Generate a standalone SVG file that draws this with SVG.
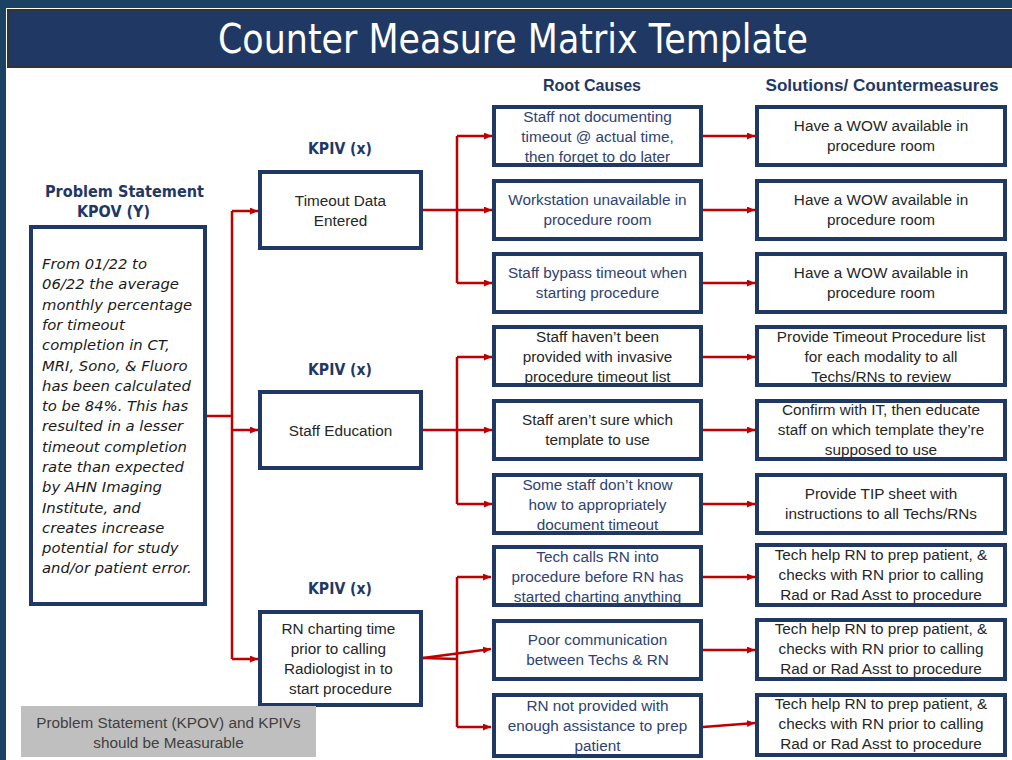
<svg xmlns="http://www.w3.org/2000/svg" width="1012" height="760" viewBox="0 0 1012 760">
  <defs>
    <marker id="arrow" markerWidth="9" markerHeight="8" refX="8" refY="3.5" orient="auto" markerUnits="userSpaceOnUse">
      <path d="M0,0 L8,3.5 L0,7 z" fill="#c00000"/>
    </marker>
    <style>
      .box { fill: #ffffff; stroke: #1f3864; stroke-width: 4; }
      .txt { font-family: "Liberation Sans", Arial, sans-serif; font-size: 15.3px; text-anchor: middle; }
      .dark { fill: #262626; }
      .navy { fill: #2e4273; }
      .head { font-family: "DejaVu Sans", Verdana, sans-serif; font-weight: bold; fill: #1f3864; text-anchor: middle; }
      .colhead { font-family: "Liberation Sans", Arial, sans-serif; font-weight: bold; font-size: 16.5px; fill: #1f3864; text-anchor: middle; }
      .prob { font-family: "DejaVu Sans", Verdana, sans-serif; font-style: italic; font-size: 14.8px; fill: #1a1a1a; }
      .link { fill: none; stroke: #c00000; stroke-width: 2.5; }
      .arr { marker-end: url(#arrow); }
    </style>
  </defs>

  <!-- page background and frame -->
  <rect x="0" y="0" width="1012" height="760" fill="#ffffff"/>
  <rect x="0" y="0" width="1012" height="8" fill="#1b4263"/>
  <rect x="0" y="0" width="6" height="760" fill="#1b4263"/>

  <!-- title band -->
  <g id="title">
    <rect x="8" y="10" width="1006" height="57" fill="#1f3864" stroke="#333333" stroke-width="2"/>
    <text x="513" y="53" font-family="DejaVu Sans, Verdana, sans-serif" font-size="41" fill="#ffffff" text-anchor="middle" textLength="590" lengthAdjust="spacingAndGlyphs">Counter Measure Matrix Template</text>
  </g>

  <!-- column headers -->
  <g id="headers">
    <text class="colhead" x="592" y="91" textLength="98" lengthAdjust="spacingAndGlyphs">Root Causes</text>
    <text class="colhead" x="882" y="91" textLength="233" lengthAdjust="spacingAndGlyphs">Solutions/ Countermeasures</text>
  </g>

  <!-- connectors -->
  <g id="connectors">
    <!-- problem statement to KPIVs -->
    <path class="link" d="M207,416 H232"/>
    <path class="link" d="M232,211 V659"/>
    <path class="link arr" d="M232,211 H258"/>
    <path class="link arr" d="M232,430 H258"/>
    <path class="link arr" d="M232,659 H258"/>

    <!-- KPIV 1 to root causes -->
    <path class="link" d="M423,210 H457 M457,136 V283"/>
    <path class="link arr" d="M457,136 H492"/>
    <path class="link arr" d="M457,210 H492"/>
    <path class="link arr" d="M457,283 H492"/>

    <!-- KPIV 2 to root causes -->
    <path class="link" d="M423,430 H457 M457,357 V504"/>
    <path class="link arr" d="M457,357 H492"/>
    <path class="link arr" d="M457,430 H492"/>
    <path class="link arr" d="M457,504 H492"/>

    <!-- KPIV 3 to root causes -->
    <path class="link" d="M423,658 L457,659 M457,577 V727"/>
    <path class="link arr" d="M457,577 H491"/>
    <path class="link arr" d="M423,658 L491,649"/>
    <path class="link arr" d="M457,727 H491"/>

    <!-- root causes to countermeasures -->
    <path class="link arr" d="M703,136 H755"/>
    <path class="link arr" d="M703,210 H755"/>
    <path class="link arr" d="M703,283 H755"/>
    <path class="link arr" d="M703,357 H755"/>
    <path class="link arr" d="M703,430 H755"/>
    <path class="link arr" d="M703,504 H755"/>
    <path class="link arr" d="M703,577 H755"/>
    <path class="link arr" d="M703,650 H755"/>
    <path class="link arr" d="M703,727 L755,723"/>
  </g>

  <!-- problem statement -->
  <g id="problem">
    <text class="head" x="124.5" y="197" font-size="16.5" textLength="159" lengthAdjust="spacingAndGlyphs">Problem Statement</text>
    <text class="head" x="113.5" y="217" font-size="16.5" textLength="73" lengthAdjust="spacingAndGlyphs">KPOV (Y)</text>
    <rect class="box" x="31" y="227" width="174" height="377"/>
    <text class="prob">
      <tspan x="42" y="269">From 01/22 to</tspan>
      <tspan x="42" y="289.3">06/22 the average</tspan>
      <tspan x="42" y="309.6">monthly percentage</tspan>
      <tspan x="42" y="329.9">for timeout</tspan>
      <tspan x="42" y="350.2">completion in CT,</tspan>
      <tspan x="42" y="370.5">MRI, Sono, &amp; Fluoro</tspan>
      <tspan x="42" y="390.7">has been calculated</tspan>
      <tspan x="42" y="411">to be 84%. This has</tspan>
      <tspan x="42" y="431.3">resulted in a lesser</tspan>
      <tspan x="42" y="451.6">timeout completion</tspan>
      <tspan x="42" y="471.9">rate than expected</tspan>
      <tspan x="42" y="492.2">by AHN Imaging</tspan>
      <tspan x="42" y="512.5">Institute, and</tspan>
      <tspan x="42" y="532.8">creates increase</tspan>
      <tspan x="42" y="553">potential for study</tspan>
      <tspan x="42" y="573.3">and/or patient error.</tspan>
    </text>
  </g>

  <!-- KPIVs -->
  <g id="kpiv1">
    <text class="head" x="340" y="154" font-size="16.5" textLength="64" lengthAdjust="spacingAndGlyphs">KPIV (x)</text>
    <rect class="box" x="260" y="172" width="161" height="76"/>
    <text class="txt dark"><tspan x="340.5" y="206">Timeout Data</tspan><tspan x="340.5" y="226">Entered</tspan></text>
  </g>
  <g id="kpiv2">
    <text class="head" x="340" y="375" font-size="16.5" textLength="64" lengthAdjust="spacingAndGlyphs">KPIV (x)</text>
    <rect class="box" x="260" y="392" width="161" height="76"/>
    <text class="txt dark" x="340.5" y="436">Staff Education</text>
  </g>
  <g id="kpiv3">
    <text class="head" x="340" y="594" font-size="16.5" textLength="64" lengthAdjust="spacingAndGlyphs">KPIV (x)</text>
    <rect class="box" x="260" y="612" width="161" height="93"/>
    <text class="txt dark">
      <tspan x="340.5" y="634">RN charting time</tspan>
      <tspan x="340.5" y="654">prior to calling</tspan>
      <tspan x="340.5" y="674">Radiologist in to</tspan>
      <tspan x="340.5" y="694">start procedure</tspan>
    </text>
  </g>

  <!-- root causes -->
  <g id="cause1">
    <rect class="box" x="494" y="107" width="207" height="58"/>
    <text class="txt navy"><tspan x="597.5" y="122">Staff not documenting</tspan><tspan x="597.5" y="142">timeout @ actual time,</tspan><tspan x="597.5" y="162">then forget to do later</tspan></text>
  </g>
  <g id="cause2">
    <rect class="box" x="494" y="181" width="207" height="58"/>
    <text class="txt navy"><tspan x="597.5" y="205">Workstation unavailable in</tspan><tspan x="597.5" y="225">procedure room</tspan></text>
  </g>
  <g id="cause3">
    <rect class="box" x="494" y="254" width="207" height="58"/>
    <text class="txt navy"><tspan x="597.5" y="278">Staff bypass timeout when</tspan><tspan x="597.5" y="298">starting procedure</tspan></text>
  </g>
  <g id="cause4">
    <rect class="box" x="494" y="327" width="207" height="58"/>
    <text class="txt dark"><tspan x="597.5" y="342">Staff haven’t been</tspan><tspan x="597.5" y="362">provided with invasive</tspan><tspan x="597.5" y="382">procedure timeout list</tspan></text>
  </g>
  <g id="cause5">
    <rect class="box" x="494" y="401" width="207" height="58"/>
    <text class="txt dark"><tspan x="597.5" y="425">Staff aren’t sure which</tspan><tspan x="597.5" y="445">template to use</tspan></text>
  </g>
  <g id="cause6">
    <rect class="box" x="494" y="475" width="207" height="58"/>
    <text class="txt navy"><tspan x="597.5" y="490">Some staff don’t know</tspan><tspan x="597.5" y="510">how to appropriately</tspan><tspan x="597.5" y="530">document timeout</tspan></text>
  </g>
  <g id="cause7">
    <rect class="box" x="494" y="547" width="207" height="58"/>
    <text class="txt navy"><tspan x="597.5" y="562">Tech calls RN into</tspan><tspan x="597.5" y="582">procedure before RN has</tspan><tspan x="597.5" y="602">started charting anything</tspan></text>
  </g>
  <g id="cause8">
    <rect class="box" x="494" y="621" width="207" height="58"/>
    <text class="txt navy"><tspan x="597.5" y="645">Poor communication</tspan><tspan x="597.5" y="665">between Techs &amp; RN</tspan></text>
  </g>
  <g id="cause9">
    <rect class="box" x="494" y="695" width="207" height="61"/>
    <text class="txt navy"><tspan x="597.5" y="711">RN not provided with</tspan><tspan x="597.5" y="731">enough assistance to prep</tspan><tspan x="597.5" y="751">patient</tspan></text>
  </g>

  <!-- countermeasures -->
  <g id="solution1">
    <rect class="box" x="757" y="107" width="248" height="58"/>
    <text class="txt dark"><tspan x="881" y="131">Have a WOW available in</tspan><tspan x="881" y="151">procedure room</tspan></text>
  </g>
  <g id="solution2">
    <rect class="box" x="757" y="181" width="248" height="58"/>
    <text class="txt dark"><tspan x="881" y="205">Have a WOW available in</tspan><tspan x="881" y="225">procedure room</tspan></text>
  </g>
  <g id="solution3">
    <rect class="box" x="757" y="254" width="248" height="58"/>
    <text class="txt dark"><tspan x="881" y="278">Have a WOW available in</tspan><tspan x="881" y="298">procedure room</tspan></text>
  </g>
  <g id="solution4">
    <rect class="box" x="757" y="327" width="248" height="58"/>
    <text class="txt dark"><tspan x="881" y="342">Provide Timeout Procedure list</tspan><tspan x="881" y="362">for each modality to all</tspan><tspan x="881" y="382">Techs/RNs to review</tspan></text>
  </g>
  <g id="solution5">
    <rect class="box" x="757" y="401" width="248" height="58"/>
    <text class="txt dark"><tspan x="881" y="415">Confirm with IT, then educate</tspan><tspan x="881" y="435">staff on which template they’re</tspan><tspan x="881" y="455">supposed to use</tspan></text>
  </g>
  <g id="solution6">
    <rect class="box" x="757" y="475" width="248" height="58"/>
    <text class="txt dark"><tspan x="881" y="499">Provide TIP sheet with</tspan><tspan x="881" y="519">instructions to all Techs/RNs</tspan></text>
  </g>
  <g id="solution7">
    <rect class="box" x="757" y="545" width="248" height="60"/>
    <text class="txt dark"><tspan x="881" y="560">Tech help RN to prep patient, &amp;</tspan><tspan x="881" y="580">checks with RN prior to calling</tspan><tspan x="881" y="600">Rad or Rad Asst to procedure</tspan></text>
  </g>
  <g id="solution8">
    <rect class="box" x="757" y="620" width="248" height="59"/>
    <text class="txt dark"><tspan x="881" y="634">Tech help RN to prep patient, &amp;</tspan><tspan x="881" y="654">checks with RN prior to calling</tspan><tspan x="881" y="674">Rad or Rad Asst to procedure</tspan></text>
  </g>
  <g id="solution9">
    <rect class="box" x="757" y="695" width="248" height="60"/>
    <text class="txt dark"><tspan x="881" y="709">Tech help RN to prep patient, &amp;</tspan><tspan x="881" y="729">checks with RN prior to calling</tspan><tspan x="881" y="749">Rad or Rad Asst to procedure</tspan></text>
  </g>

  <!-- note -->
  <g id="note">
    <rect x="21" y="706" width="295" height="51" fill="#bfbfbf"/>
    <text class="txt" fill="#404040"><tspan x="168.5" y="728">Problem Statement (KPOV) and KPIVs</tspan><tspan x="168.5" y="748">should be Measurable</tspan></text>
  </g>
</svg>
